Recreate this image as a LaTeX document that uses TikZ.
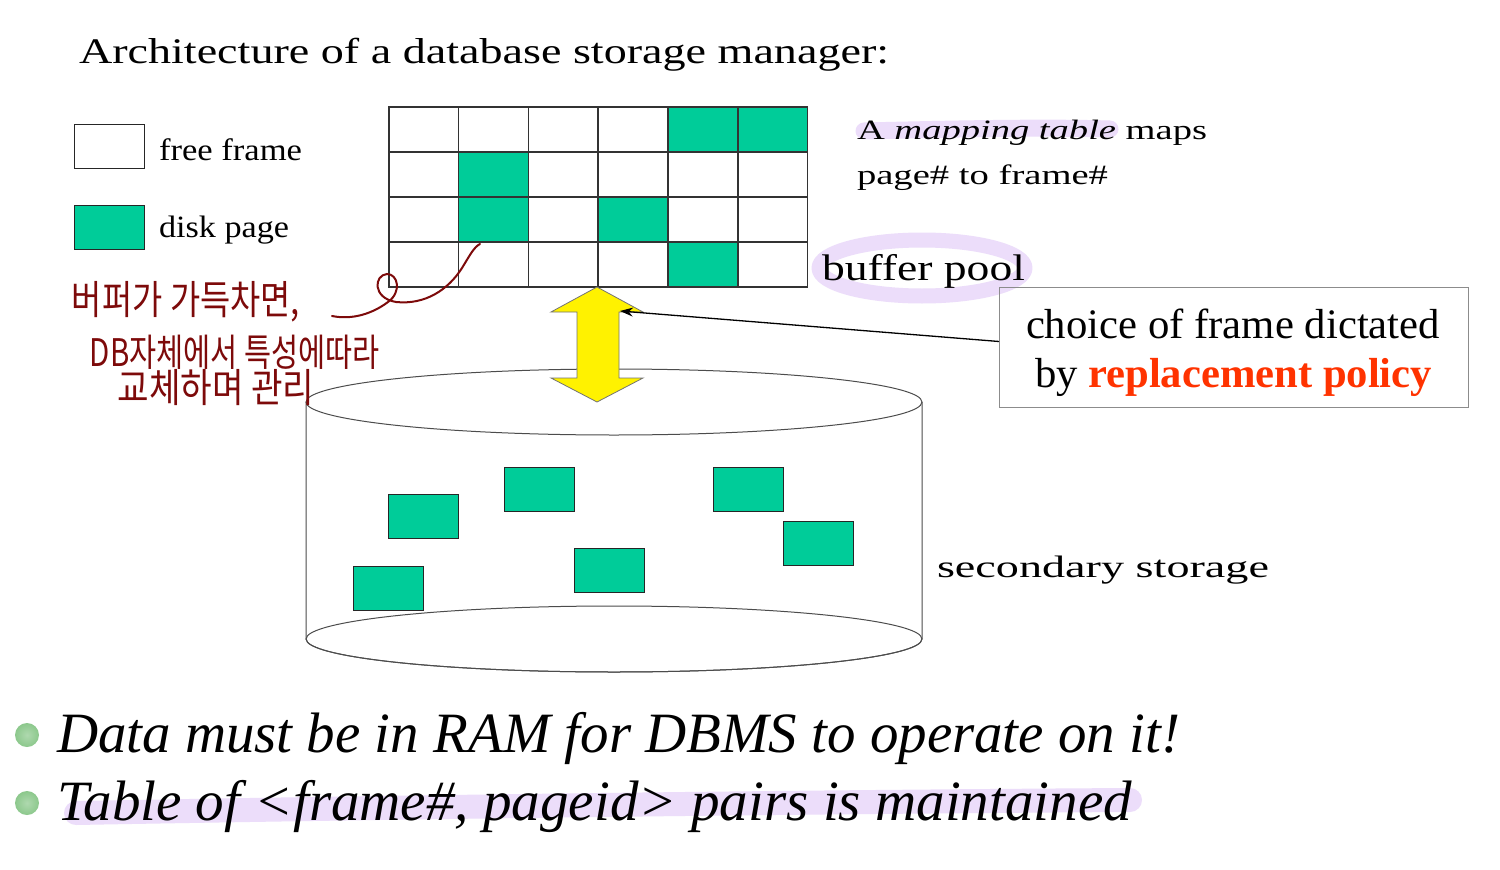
\documentclass[tikz,border=0pt]{standalone}
\usepackage{fontspec}
\setmainfont{Liberation Serif}
\newfontfamily\krfont{Noto Sans CJK KR}
\usetikzlibrary{arrows.meta}
\definecolor{pg}{RGB}{0,204,153}
\definecolor{hl}{RGB}{236,221,250}
\definecolor{ink}{RGB}{125,10,10}
\definecolor{rp}{RGB}{255,51,0}
\definecolor{bul}{RGB}{140,200,140}
\newcommand{\fitw}[2]{\resizebox{#1}{\height}{#2}}
\newcommand{\fs}[1]{\fontsize{#1pt}{#1pt}\selectfont}
\begin{document}
\begin{tikzpicture}[x=1pt,y=-1pt,
  txt/.style={anchor=base west, inner sep=0pt, outer sep=0pt},
  cell/.style={draw=black!80, line width=1.5pt, minimum width=69.8pt, minimum height=45pt, anchor=north west, inner sep=0pt},
  pagebox/.style={draw=black!85, fill=pg, line width=1pt, minimum width=70pt, minimum height=44pt, anchor=north west, inner sep=0pt},
  hand/.style={inner sep=0pt, text=ink},
  cyl/.style={draw=black!70, line width=1pt},
  hilite/.style={draw=hl, line cap=round, line join=round}]
\path[use as bounding box, fill=white] (0,0) rectangle (1500,870);

% highlights
\draw[hilite, line width=17pt] (864,131) .. controls (950,129) and (1040,127) .. (1110,129);
\draw[hilite, line width=15pt] (922,268) ellipse [x radius=103pt, y radius=28pt];
\draw[hilite, line width=24pt] (76,813) .. controls (400,807) and (800,802) .. (1130,800);

% title
\node[txt] (title) at (79,63) {\fitw{810pt}{\fs{36}Architecture of a database storage manager:}};

% legend
\node[pagebox, fill=white] (lfree) at (74,124) {};
\node[pagebox] (ldisk) at (74,205) {};
\node[txt] (tfree) at (159,160) {\fitw{143pt}{\fs{31}free frame}};
\node[txt] (tdisk) at (159,237) {\fitw{130pt}{\fs{31}disk page}};

% buffer pool grid
\foreach \r in {0,...,3}
  \foreach \c in {0,...,5}
    \node[cell] (c\r\c) at ({388+69.83*\c},{106+45*\r}) {};
\foreach \r/\c in {0/4,0/5,1/1,2/1,2/3,3/4}
  \node[cell, fill=pg] (g\r\c) at ({388+69.83*\c},{106+45*\r}) {};

% mapping table text
\node[txt] (map1) at (857,139) {\fitw{350pt}{\fs{28}A \textit{mapping table} maps}};
\node[txt] (map2) at (857,184) {\fitw{251pt}{\fs{28}page\# to frame\#}};
\node[txt] (bpool) at (822,280) {\fitw{203pt}{\fs{37}buffer pool}};

% cylinder
\draw[cyl, fill=white] (306,402) -- (306,639) arc[start angle=180, end angle=360, x radius=308pt, y radius=33pt] -- (922,402);
\draw[cyl] (614,402) ellipse [x radius=308pt, y radius=33pt];
\draw[cyl] (614,639) ellipse [x radius=308pt, y radius=33pt];
\node[pagebox] (d1) at (388,494) {};
\node[pagebox] (d2) at (504,467) {};
\node[pagebox] (d3) at (353,566) {};
\node[pagebox] (d4) at (574,548) {};
\node[pagebox] (d5) at (713,467) {};
\node[pagebox] (d6) at (783,521) {};
\node[txt] (sec) at (937,577) {\fitw{332pt}{\fs{31}secondary storage}};

% yellow double arrow
\draw[fill=yellow, draw=black!55, line width=0.8pt] (597,287) -- (643,312) -- (619,312) -- (619,378) -- (643,378) -- (597,402) -- (551,378) -- (577,378) -- (577,312) -- (551,312) -- cycle;
\coordinate (yarr) at (620,311);

% replacement policy box
\node[draw=black!45, line width=1pt, minimum width=469pt, minimum height=120pt, anchor=north west, inner sep=0pt] (choice) at (999,287) {};
\node[txt] (ch1) at (1026,338) {\fitw{414pt}{\fs{42}choice of frame dictated}};
\node[txt] (ch2) at (1035,387) {\fitw{397pt}{\fs{42}by \textcolor{rp}{\bfseries replacement policy}}};
\draw[-{Stealth[length=13pt,width=9pt]}, line width=1.3pt] ([yshift=6pt]choice.west) -- (yarr);

% bullets
\shade[inner color=bul!70, outer color=bul] (27,735) circle[radius=12pt];
\shade[inner color=bul!70, outer color=bul] (27,803) circle[radius=12pt];
\node[txt] (b1) at (57,752) {\fitw{1123pt}{\fs{57}\itshape Data must be in RAM for DBMS to operate on it!}};
\node[txt] (b2) at (57,820) {\fitw{1075pt}{\fs{57}\itshape Table of <frame\#, pageid> pairs is maintained}};

% handwriting
\node[hand] (hw1) at (186,302) {\fitw{228pt}{\fs{40}\krfont 버퍼가 가득차면,}};
\node[hand] (hw2) at (235,352) {\fitw{290pt}{\fs{38}\krfont DB자체에서 특성에따라}};
\node[hand] (hw3) at (216,388) {\fitw{197pt}{\fs{40}\krfont 교체하며 관리}};
\draw[ink, line width=2pt, line cap=round] (332,316) .. controls (352,320) and (372,314) .. (388,302)
  .. controls (402,292) and (398,274) .. (387,274) .. controls (374,275) and (372,298) .. (396,302)
  .. controls (425,305) and (448,290) .. (462,268) .. controls (470,255) and (474,247) .. (480,244);
\end{tikzpicture}
\end{document}
